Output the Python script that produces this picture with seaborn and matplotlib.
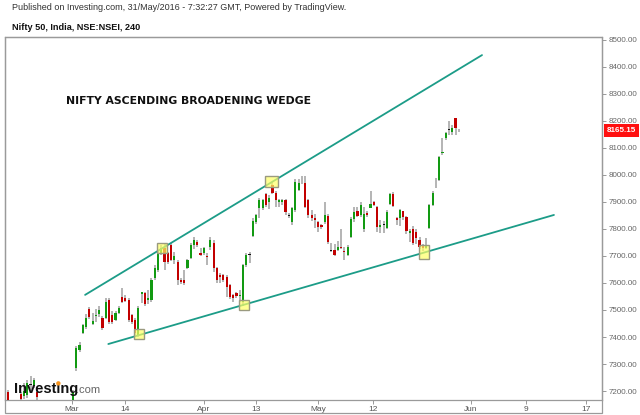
import numpy as np
import pandas as pd
import matplotlib
matplotlib.use("Agg")
import matplotlib.pyplot as plt
import seaborn as sns
from matplotlib.patches import Rectangle, Ellipse

sns.set_theme(style="white")
plt.rcParams['font.family'] = ['Liberation Sans', 'DejaVu Sans']

# ---------------- data (4-hour candles, Nifty 50) ----------------
opens = [7198, 7150, 7100, 7130, 7190, 7180, 7185, 7225, 7220, 7198,
         7150, 7110, 7080, 7050, 7010, 7020, 6980, 6960, 6900, 6980,
         7040, 7285, 7352, 7415, 7437, 7504, 7450, 7478, 7485, 7470,
         7470, 7537, 7481, 7463, 7489, 7548, 7545, 7537, 7481, 7463,
         7407, 7560, 7563, 7537, 7537, 7619, 7648, 7711, 7730, 7711,
         7741, 7685, 7678, 7611, 7611, 7656, 7693, 7741, 7752, 7711,
         7711, 7700, 7733, 7748, 7656, 7630, 7630, 7622, 7593, 7556,
         7563, 7550, 7530, 7667, 7705, 7774, 7826, 7878, 7878, 7930,
         7900, 7963, 7933, 7900, 7900, 7907, 7850, 7826, 7870, 7944,
         7981, 7970, 7907, 7852, 7840, 7826, 7815, 7826, 7848, 7720,
         7722, 7722, 7735, 7720, 7704, 7770, 7837, 7867, 7852, 7800,
         7860, 7878, 7900, 7880, 7807, 7815, 7804, 7893, 7930, 7840,
         7840, 7866, 7845, 7785, 7800, 7790, 7759, 7741, 7730, 7804,
         7889, 7976, 7981, 8080, 8137, 8167, 8159, 8211, 8165]
highs = [7205, 7160, 7140, 7150, 7195, 7230, 7240, 7255, 7250, 7202,
         7160, 7130, 7100, 7070, 7040, 7030, 7000, 7100, 6990, 7010,
         7205, 7365, 7381, 7450, 7485, 7510, 7490, 7505, 7515, 7478,
         7545, 7545, 7495, 7495, 7515, 7581, 7556, 7545, 7485, 7470,
         7515, 7568, 7565, 7574, 7620, 7665, 7718, 7740, 7745, 7715,
         7748, 7715, 7685, 7620, 7648, 7690, 7748, 7770, 7760, 7730,
         7735, 7711, 7770, 7759, 7660, 7637, 7635, 7630, 7595, 7560,
         7565, 7574, 7670, 7710, 7715, 7840, 7855, 7915, 7910, 7933,
         7925, 7974, 7940, 7910, 7910, 7910, 7860, 7880, 7985, 7985,
         7995, 7995, 7910, 7870, 7855, 7830, 7820, 7900, 7855, 7748,
         7744, 7755, 7800, 7733, 7740, 7845, 7880, 7880, 7900, 7880,
         7866, 7940, 7905, 7885, 7833, 7830, 7870, 7935, 7937, 7845,
         7875, 7868, 7848, 7800, 7810, 7800, 7770, 7745, 7765, 7893,
         7940, 7990, 8070, 8137, 8160, 8200, 8185, 8211, 8170]
lows = [7130, 7090, 7080, 7100, 7160, 7170, 7175, 7200, 7210, 7160,
        7100, 7060, 7030, 6990, 6980, 6960, 6940, 6830, 6880, 6950,
        7030, 7275, 7345, 7410, 7430, 7465, 7445, 7455, 7475, 7425,
        7465, 7450, 7450, 7458, 7485, 7526, 7530, 7456, 7450, 7407,
        7400, 7526, 7515, 7522, 7530, 7610, 7640, 7705, 7648, 7670,
        7680, 7670, 7593, 7598, 7593, 7650, 7690, 7725, 7735, 7700,
        7705, 7667, 7722, 7640, 7600, 7600, 7605, 7548, 7540, 7530,
        7545, 7530, 7515, 7660, 7674, 7770, 7820, 7841, 7870, 7880,
        7875, 7930, 7880, 7880, 7890, 7850, 7840, 7815, 7863, 7940,
        7965, 7878, 7840, 7830, 7805, 7790, 7800, 7820, 7745, 7715,
        7700, 7720, 7725, 7685, 7700, 7765, 7825, 7845, 7845, 7790,
        7845, 7878, 7885, 7790, 7785, 7785, 7800, 7890, 7880, 7815,
        7810, 7835, 7780, 7750, 7740, 7745, 7725, 7720, 7725, 7800,
        7885, 7952, 7978, 8074, 8130, 8148, 8148, 8148, 8160]
closes = [7150, 7100, 7130, 7110, 7172, 7200, 7230, 7222, 7242, 7176,
          7110, 7080, 7050, 7010, 7020, 6980, 6960, 6900, 6980, 6990,
          7195, 7360, 7370, 7444, 7470, 7474, 7460, 7482, 7500, 7435,
          7530, 7456, 7456, 7489, 7507, 7530, 7535, 7463, 7456, 7415,
          7507, 7565, 7522, 7544, 7611, 7656, 7711, 7730, 7678, 7678,
          7685, 7700, 7611, 7605, 7600, 7685, 7741, 7759, 7741, 7704,
          7730, 7695, 7759, 7656, 7611, 7622, 7611, 7585, 7548, 7545,
          7550, 7555, 7667, 7704, 7706, 7830, 7852, 7907, 7907, 7889,
          7915, 7933, 7907, 7907, 7907, 7863, 7848, 7878, 7974, 7970,
          7980, 7881, 7852, 7840, 7835, 7807, 7807, 7852, 7750, 7721,
          7704, 7733, 7730, 7716, 7733, 7837, 7863, 7848, 7889, 7855,
          7850, 7892, 7889, 7807, 7815, 7818, 7863, 7930, 7885, 7835,
          7870, 7845, 7793, 7792, 7748, 7765, 7733, 7730, 7741, 7889,
          7933, 7978, 8067, 8085, 8156, 8168, 8174, 8174, 8165.15]

first_bar = -20            # bars before 1 March
date_tick_bars = [-0.3, 15.9, 40.1, 56.0, 74.9, 91.7, 121.7, 138.5, 156.9]
date_tick_labels = ["Mar", "14", "Apr", "13", "May", "12", "Jun", "9", "17"]
price_ticks = [7200, 7300, 7400, 7500, 7600, 7700, 7800, 7900, 8000,
               8100, 8200, 8300, 8400, 8500]

upper_line_bar = [3.7, 125.1]
upper_line_price = [7556, 8444]
lower_line_bar = [10.8, 147.1]
lower_line_price = [7374, 7852]

box_bar = [20.3, 27.3, 60.8, 52.4, 107.4]
box_price = [7411, 7728, 7977, 7518, 7714]

title_text = "NIFTY ASCENDING BROADENING WEDGE"
header_text = "Published on Investing.com, 31/May/2016 - 7:32:27 GMT, Powered by TradingView."
symbol_text = "Nifty 50, India, NSE:NSEI, 240"

# ---------------- frame ----------------
W, H = 640, 415
fig = plt.figure(figsize=(W / 100, H / 100), dpi=100)
fig.patch.set_facecolor("white")
ax = fig.add_axes([5 / W, (H - 400) / H, 597 / W, 363 / H])
ax.set_facecolor("white")

df = pd.DataFrame({"open": opens, "high": highs, "low": lows, "close": closes})
df["bar"] = np.arange(len(df)) + first_bar
diff = df["close"] - df["open"]
df["color"] = np.where(diff > 3, "#129a12", np.where(diff < -3, "#c20000", "#111111"))
df["bottom"] = np.minimum(df["open"], df["close"])
df["height"] = np.maximum(np.abs(diff), 3.0)

# wicks
ax.vlines(df["bar"], df["low"], df["high"], color="#b4b4b4", linewidth=1.4, zorder=2)
# bodies
ax.bar(df["bar"], df["height"], bottom=df["bottom"], width=0.66,
       color=df["color"], linewidth=0, zorder=3)

# trend lines (seaborn)
lines = pd.DataFrame({
    "bar": upper_line_bar + lower_line_bar,
    "price": upper_line_price + lower_line_price,
    "line": ["upper", "upper", "lower", "lower"],
})
sns.lineplot(data=lines, x="bar", y="price", units="line", estimator=None,
             color="#1c9c88", linewidth=1.3, ax=ax, zorder=4, legend=False)

# highlight boxes
bw, bh = 3.1, 37
for bx, by, (sw, sh) in zip(box_bar, box_price,
                            [(1, 1), (1, 1), (1.25, 1.1), (1, 1), (1, 1.4)]):
    ax.add_patch(Rectangle((bx - bw * sw / 2, by - bh * sh / 2), bw * sw, bh * sh,
                           facecolor="#ffff66", alpha=0.7, edgecolor="none", zorder=5))
    ax.add_patch(Rectangle((bx - bw * sw / 2, by - bh * sh / 2), bw * sw, bh * sh,
                           facecolor="none", edgecolor="#9a9a80", linewidth=1.0, zorder=5))

ax.set_xlim(-20.8, 161.8)
ax.set_ylim(7166.7, 8511)
ax.set_xlabel("")
ax.set_ylabel("")

ax.yaxis.tick_right()
ax.set_yticks(price_ticks)
ax.set_yticklabels([f"{p:.2f}" for p in price_ticks])
ax.set_xticks(date_tick_bars)
ax.set_xticklabels(date_tick_labels)
ax.tick_params(axis="y", which="both", right=True, left=False, direction="out",
               length=3, width=0.7, color="#999999", labelsize=5.8,
               labelcolor="#666666", pad=1.5)
ax.tick_params(axis="x", which="both", bottom=True, direction="out", length=3,
               width=0.7, color="#999999", labelsize=6, labelcolor="#555555", pad=1.5)
for s in ax.spines.values():
    s.set_color("#9a9a9a")
    s.set_linewidth(0.9)

# outer frame including the date strip
fig.add_artist(Rectangle((5 / W, (H - 413) / H), 597 / W, 376 / H, fill=False,
                         edgecolor="#9a9a9a", linewidth=0.9, transform=fig.transFigure))

# last price label
ax.annotate(f"{closes[-1]:.2f}", xy=(1.0, closes[-1]), xycoords=("axes fraction", "data"),
            xytext=(3.5, 0), textcoords="offset points", ha="left", va="center",
            fontsize=5.9, fontweight="bold", color="white",
            bbox=dict(boxstyle="square,pad=0.35", facecolor="#ff1010", edgecolor="none"),
            annotation_clip=False, zorder=10)

# texts
fig.text(12 / W, 1 - 8 / H, header_text, fontsize=6.5, color="#333333", va="center", ha="left")
fig.text(12 / W, 1 - 27 / H, symbol_text, fontsize=6.6, fontweight="bold",
         color="#111111", va="center", ha="left")
fig.text(66 / W, 1 - 101 / H, title_text, fontsize=7.8, fontweight="bold",
         family="DejaVu Sans", color="#111111", va="center", ha="left")

# Investing.com logo
logo_x, logo_base = 14, H - 393
logo_fs = 10.5
fig.text(logo_x / W, logo_base / H, "Investing", fontsize=logo_fs, fontweight="bold",
         color="#111111", va="baseline", ha="left", zorder=20)
fig.text(76 / W, logo_base / H, ".com", fontsize=8, color="#666666",
         va="baseline", ha="left", zorder=20)
# orange dot over the second "i"
renderer = fig.canvas.get_renderer()
def _w(s):
    t = fig.text(0, 0, s, fontsize=logo_fs, fontweight="bold")
    w = t.get_window_extent(renderer).width
    t.remove()
    return w
i_center = logo_x + (_w("Invest") + _w("Investi")) / 2
dot_y = logo_base + logo_fs * 100 / 72 * 0.66
fig.add_artist(Ellipse((i_center / W, dot_y / H), 4.4 / W, 4.4 / H,
                       transform=fig.transFigure, facecolor="#f7941d",
                       edgecolor="none", zorder=25))

fig.savefig("out.png", dpi=100, facecolor="white")
